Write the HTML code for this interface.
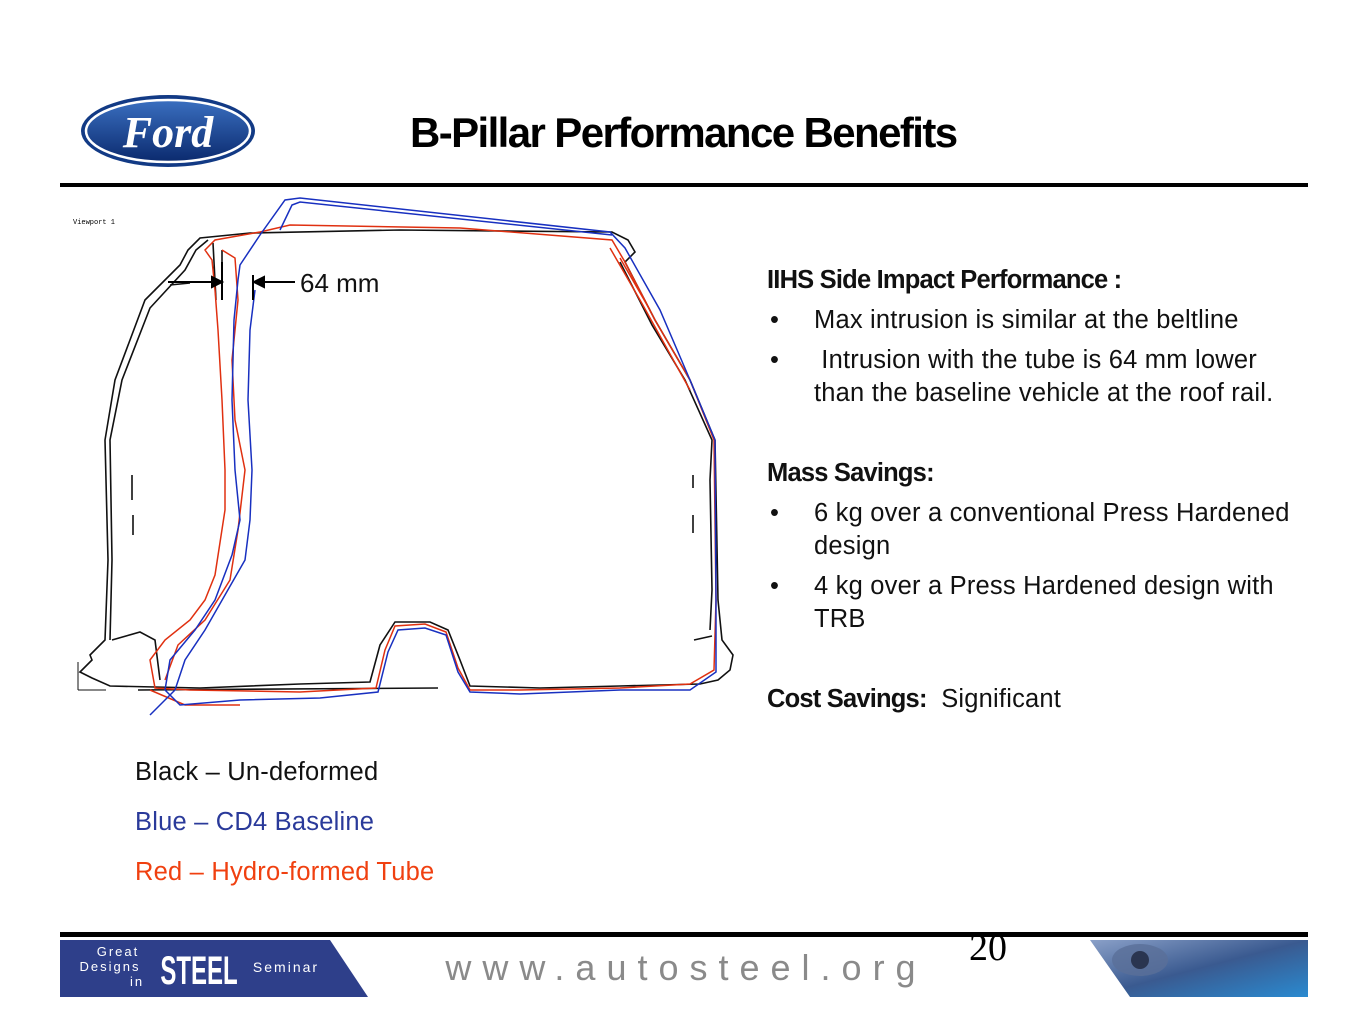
<!DOCTYPE html>
<html><head><meta charset="utf-8"><style>
body{margin:0;width:1371px;height:1013px;background:#fff;position:relative;overflow:hidden;font-family:"Liberation Sans",sans-serif}
.t{position:absolute;white-space:nowrap;font-size:25.5px;color:#111;letter-spacing:0.2px}
.b{font-weight:bold;letter-spacing:-0.8px}
</style></head><body>
<svg width="1371" height="1013" style="position:absolute;left:0;top:0">
<defs><linearGradient id="fg" x1="0" y1="0" x2="0" y2="1"><stop offset="0" stop-color="#3a6fc0"/><stop offset="1" stop-color="#0b2a6e"/></linearGradient>
<linearGradient id="im" x1="0" y1="0" x2="1" y2="1"><stop offset="0" stop-color="#8aa0c8"/><stop offset="0.5" stop-color="#3a5a90"/><stop offset="1" stop-color="#2a8ad0"/></linearGradient></defs>
<ellipse cx="168" cy="131" rx="87" ry="36" fill="#123a85"/>
<ellipse cx="168" cy="131" rx="82" ry="31" fill="url(#fg)" stroke="#fff" stroke-width="2.5"/>
<text x="168" y="147" text-anchor="middle" font-family="Liberation Serif" font-style="italic" font-weight="bold" font-size="44" fill="#fff">Ford</text>
<rect x="60" y="183" width="1248" height="4" fill="#000"/>
<rect x="60" y="932" width="1248" height="5" fill="#000"/>
<polygon points="60,940 330,940 368,997 60,997" fill="#2e3f8a"/>
<text x="118" y="956" text-anchor="middle" fill="#fff" font-size="13" letter-spacing="2">Great</text>
<text x="110" y="971" text-anchor="middle" fill="#fff" font-size="13" letter-spacing="2">Designs</text>
<text x="137" y="986" text-anchor="middle" fill="#fff" font-size="13" letter-spacing="2">in</text>
<text x="199" y="984" text-anchor="middle" fill="#fff" font-size="40" font-weight="bold" transform="translate(199 0) scale(0.6 1) translate(-199 0)">STEEL</text>
<text x="286" y="972" text-anchor="middle" fill="#fff" font-size="14" letter-spacing="2">Seminar</text>
<polygon points="1090,940 1308,940 1308,997 1130,997" fill="url(#im)"/>
<ellipse cx="1140" cy="960" rx="28" ry="16" fill="#5a6f98" opacity=".8"/>
<circle cx="1140" cy="960" r="9" fill="#2a3550"/>
<text x="686" y="980" text-anchor="middle" fill="#8a8a8a" font-size="36" letter-spacing="11">www.autosteel.org</text>
<text x="988" y="960" text-anchor="middle" fill="#000" font-family="Liberation Serif" font-size="38">20</text>
<text x="73" y="224" font-size="7" font-family="Liberation Mono">Viewport 1</text>
<g fill="none" stroke-width="1.6">
<path stroke="#111" d="M80,672 L92,660 L90,655 L105,640 L108,560 L105,440 L115,380 L145,300 L180,265 L188,250 L200,238 L250,233 L400,230 L612,232 L628,240 L635,252 L625,262 L655,320 L690,380 L715,440 L718,600 L722,640 L733,655 L730,670 L718,680 L700,684 L620,686 L540,688 L470,686 L460,660 L448,630 L430,622 L395,622 L380,645 L370,682 L300,684 L200,688 L110,686 L92,678 Z"/>
<path stroke="#111" d="M110,640 L112,560 L110,440 L122,380 L150,308 L185,270 L196,250 L208,240"/>
<path stroke="#111" d="M112,640 L140,632 L155,640 L160,680 M694,640 L712,636 M710,630 L712,590 L710,480 L712,440 L685,380 L652,325 L620,262"/>
<path stroke="#111" d="M132,475 L132,500 M133,515 L133,535 M693,475 L693,488 M693,515 L693,533 M138,690 L438,688"/>
<path stroke="#111" d="M213,243 L216,300 M222,250 L222,300 M170,285 L190,283"/>
</g>
<g fill="none" stroke-width="1.5">
<path stroke="#e03010" d="M205,250 L215,240 L260,232 L290,225 L460,228 L612,240 L625,262 L655,320 L690,380 L714,440 L716,600 L714,670 L690,684 L620,688 L520,690 L470,690 L458,668 L446,632 L425,624 L395,626 L385,650 L376,688 L300,692 L190,690 L155,688 L150,660 L165,640 L190,620 L205,600 L215,575 L225,510 L225,470 L222,400 L218,330 L215,290 L212,260 Z"/>
<path stroke="#e03010" d="M222,250 L235,258 L238,300 L232,360 L235,420 L245,470 L238,530 L230,580 L205,620 L178,645 L165,680 M150,690 L185,705 L240,705"/>
<path stroke="#e03010" d="M610,248 L640,300 L690,390 M620,258 L650,310"/>
</g>
<g fill="none" stroke-width="1.5">
<path stroke="#1830c0" d="M240,265 L260,235 L285,200 L300,198 L610,232 L625,248 L660,310 L690,380 L715,440 L716,600 L716,672 L690,690 L620,690 L520,694 L470,692 L458,672 L446,635 L425,628 L398,630 L388,652 L378,692 L320,698 L240,700 L180,705 L165,690 L170,660 L195,630 L215,600 L232,555 L240,520 L235,470 L232,400 L234,320 L238,280 Z"/>
<path stroke="#1830c0" d="M255,290 L250,330 L248,400 L252,470 L250,520 L245,560 L205,630 L185,660 L175,690 L150,715 M280,230 L292,205 L300,202 L612,235"/>
</g>
<g stroke="#000" stroke-width="2" fill="#000">
<line x1="168" y1="282" x2="214" y2="282"/><polygon points="222,282 212,277 212,287"/>
<line x1="222" y1="262" x2="222" y2="300"/><line x1="253" y1="275" x2="253" y2="300"/>
<line x1="265" y1="282" x2="295" y2="282"/><polygon points="254,282 264,277 264,287"/>
</g>
<text x="300" y="292" font-size="26" fill="#111">64 mm</text>
<g stroke="#111" stroke-width="1"><line x1="78" y1="662" x2="78" y2="690"/><line x1="78" y1="690" x2="106" y2="690"/></g>
</svg>
<div class="t b" style="left:410px;top:109px;font-size:42px;letter-spacing:-1.6px;color:#000">B-Pillar Performance Benefits</div>
<div class="t b" style="left:767px;top:266px">IIHS Side Impact Performance :</div>
<div class="t" style="left:770px;top:306px">•</div><div class="t" style="left:814px;top:306px">Max intrusion is similar at the beltline</div>
<div class="t" style="left:770px;top:346px">•</div><div class="t" style="left:814px;top:346px">&nbsp;Intrusion with the tube is 64 mm lower</div>
<div class="t" style="left:814px;top:379px">than the baseline vehicle at the roof rail.</div>
<div class="t b" style="left:767px;top:459px">Mass Savings:</div>
<div class="t" style="left:770px;top:499px">•</div><div class="t" style="left:814px;top:499px">6 kg over a conventional Press Hardened</div>
<div class="t" style="left:814px;top:532px">design</div>
<div class="t" style="left:770px;top:572px">•</div><div class="t" style="left:814px;top:572px">4 kg over a Press Hardened design with</div>
<div class="t" style="left:814px;top:605px">TRB</div>
<div class="t" style="left:767px;top:685px"><span class="b">Cost Savings:</span>&nbsp; Significant</div>
<div class="t" style="left:135px;top:758px">Black – Un-deformed</div>
<div class="t" style="left:135px;top:808px;color:#2a3a9a">Blue – CD4 Baseline</div>
<div class="t" style="left:135px;top:858px;color:#f04010">Red – Hydro-formed Tube</div>
</body></html>
